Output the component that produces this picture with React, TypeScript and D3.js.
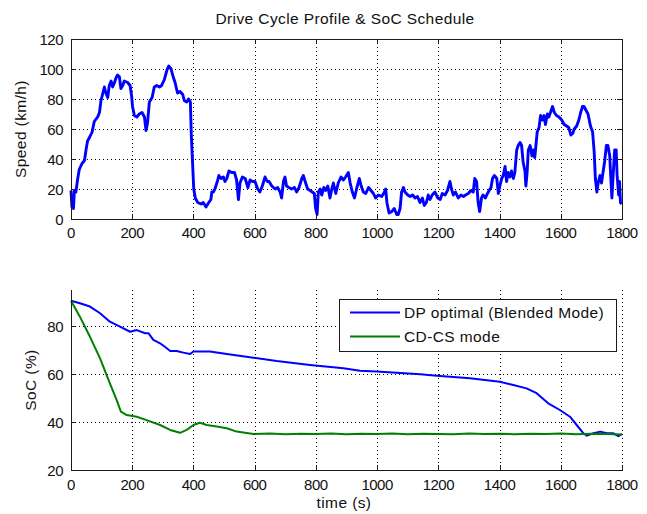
import React from "react";
import * as d3 from "d3";

const title = "Drive Cycle Profile & SoC Schedule";

const speedTime = [0, 3, 8, 11, 16, 22, 27, 36, 44, 49, 54, 62, 69, 76, 87, 93, 98, 103, 109, 114, 120, 125, 131, 136, 142, 147, 152, 158, 163, 169, 174, 185, 193, 198, 201, 207, 215, 223, 232, 240, 245, 250, 256, 265, 272, 280, 289, 296, 305, 313, 319, 327, 332, 340, 348, 356, 365, 370, 378, 384, 390, 393, 397, 401, 406, 414, 425, 432, 441, 450, 457, 460, 465, 470, 478, 483, 490, 498, 503, 509, 516, 525, 534, 541, 547, 552, 560, 569, 578, 585, 593, 601, 610, 617, 625, 634, 641, 647, 656, 667, 675, 683, 688, 694, 699, 704, 712, 721, 730, 737, 745, 754, 759, 765, 773, 781, 788, 795, 799, 804, 808, 814, 819, 826, 832, 839, 846, 852, 857, 865, 873, 882, 890, 897, 906, 912, 919, 926, 934, 942, 948, 955, 963, 972, 980, 988, 995, 1004, 1015, 1024, 1028, 1032, 1039, 1048, 1056, 1064, 1069, 1075, 1080, 1086, 1091, 1100, 1108, 1116, 1124, 1132, 1140, 1148, 1154, 1161, 1167, 1173, 1180, 1189, 1198, 1206, 1213, 1222, 1230, 1238, 1243, 1249, 1256, 1265, 1274, 1282, 1289, 1298, 1306, 1314, 1319, 1325, 1330, 1335, 1341, 1346, 1354, 1358, 1366, 1372, 1377, 1383, 1391, 1396, 1401, 1407, 1412, 1418, 1423, 1428, 1434, 1439, 1445, 1450, 1456, 1461, 1467, 1472, 1477, 1483, 1486, 1490, 1494, 1500, 1506, 1510, 1515, 1523, 1529, 1534, 1540, 1545, 1550, 1556, 1561, 1568, 1573, 1579, 1586, 1594, 1603, 1611, 1619, 1626, 1633, 1639, 1644, 1652, 1659, 1665, 1671, 1676, 1681, 1689, 1697, 1704, 1709, 1713, 1718, 1722, 1728, 1733, 1738, 1743, 1749, 1754, 1760, 1763, 1767, 1771, 1776, 1781, 1784, 1789, 1792, 1795, 1799];
const speedValue = [19, 8, 7, 19, 18, 27, 33, 37, 39, 46, 52, 55, 58, 65, 68, 71, 79, 83, 88, 84, 81, 89, 92, 88, 91, 94, 96, 95, 87, 89, 92, 91, 89, 82, 75, 69, 68, 70, 71, 68, 59, 64, 78, 81, 88, 89, 88, 89, 93, 99, 102, 100, 96, 91, 84, 85, 83, 79, 78, 80, 78, 56, 38, 20, 14, 11, 10, 11, 8, 11, 13, 18, 18, 20, 25, 29, 27, 28, 25, 27, 32, 31, 31, 26, 13, 24, 28, 27, 21, 26, 25, 25, 20, 18, 22, 28, 25, 25, 22, 20, 21, 18, 14, 25, 28, 22, 21, 20, 21, 18, 21, 27, 29, 25, 20, 19, 18, 17, 7, 3, 18, 20, 16, 21, 19, 22, 14, 20, 24, 17, 24, 28, 26, 28, 31, 24, 18, 14, 21, 27, 22, 18, 17, 21, 19, 17, 14, 16, 15, 18, 20, 11, 4, 5, 7, 3, 3, 7, 18, 21, 18, 16, 15, 16, 14, 15, 11, 14, 9, 11, 16, 13, 16, 18, 14, 13, 17, 16, 19, 25, 20, 16, 18, 14, 16, 15, 16, 17, 19, 18, 27, 25, 11, 5, 14, 16, 14, 16, 19, 21, 27, 29, 27, 17, 22, 27, 29, 35, 25, 31, 28, 32, 27, 31, 46, 49, 51, 49, 38, 32, 22, 31, 46, 49, 42, 46, 41, 58, 61, 69, 66, 69, 63, 70, 68, 72, 75, 71, 69, 68, 66, 63, 62, 61, 56, 57, 60, 62, 66, 71, 75, 75, 73, 70, 62, 58, 45, 27, 18, 24, 29, 24, 31, 38, 49, 49, 42, 29, 14, 29, 46, 46, 29, 16, 25, 11, 10];

const dpTime = [0, 29, 62, 95, 127, 160, 193, 215, 242, 253, 269, 291, 313, 324, 345, 367, 389, 400, 454, 509, 596, 672, 781, 890, 944, 999, 1141, 1195, 1303, 1401, 1445, 1488, 1521, 1559, 1597, 1630, 1652, 1674, 1685, 1707, 1729, 1751, 1772, 1788, 1800];
const dpSoC = [90.5, 89.5, 88.1, 85.3, 81.8, 79.7, 77.6, 78.3, 77.0, 77.0, 74.2, 72.8, 70.7, 69.6, 69.6, 68.9, 68.3, 69.4, 69.4, 68.3, 66.8, 65.4, 63.75, 62.4, 61.4, 61.0, 59.9, 59.3, 58.2, 56.8, 55.4, 54.0, 52.0, 47.8, 45.0, 42.2, 38.75, 35.3, 34.3, 35.3, 36.0, 35.3, 35.3, 34.1, 35.0];

const cdTime = [0, 29, 62, 95, 127, 149, 163, 182, 215, 247, 291, 324, 356, 378, 400, 421, 443, 476, 509, 541, 596, 650, 700, 750, 800, 850, 900, 950, 1000, 1050, 1100, 1150, 1200, 1250, 1300, 1350, 1400, 1450, 1500, 1550, 1600, 1650, 1700, 1750, 1800];
const cdSoC = [90.5, 83.9, 75.5, 66.5, 56.1, 49.2, 44.3, 42.9, 42.2, 40.8, 38.75, 36.7, 35.5, 36.7, 38.75, 39.7, 38.75, 38.1, 37.4, 36.0, 35.0, 35.2, 34.9, 35.1, 35.0, 35.2, 34.9, 35.1, 35.0, 35.2, 34.9, 35.1, 35.0, 34.9, 35.2, 35.0, 35.1, 34.9, 35.1, 35.0, 35.2, 34.9, 35.1, 35.0, 34.8];

const xTicks = [0, 200, 400, 600, 800, 1000, 1200, 1400, 1600, 1800];
const speedTicks = [0, 20, 40, 60, 80, 100, 120];
const socTicks = [20, 40, 60, 80];
const legendLabels = ["DP optimal (Blended Mode)", "CD-CS mode"];

const FONT = "'Liberation Sans', Arial, Helvetica, sans-serif";
const AX = "#1a1a1a";

export default function App() {
  const L = 71, R = 622;
  const x = d3.scaleLinear().domain([0, 1800]).range([L, R]);
  const y1 = d3.scaleLinear().domain([0, 120]).range([219, 39]);
  const y2 = d3.scaleLinear().domain([20, 95]).range([470, 290]);

  const speedLine = d3.line<number>().x((_, i) => x(speedTime[i])).y((d) => y1(d));
  const dpLine = d3.line<number>().x((_, i) => x(dpTime[i])).y((d) => y2(d));
  const cdLine = d3.line<number>().x((_, i) => x(cdTime[i])).y((d) => y2(d));

  const tick = 5;
  const tickStyle = { fontFamily: FONT, fontSize: 15, letterSpacing: -0.5, fill: "#111" } as const;
  const labelStyle = { fontFamily: FONT, fontSize: 15.5, letterSpacing: 0.4, fill: "#111" } as const;

  return (
    <svg width={647} height={514} style={{ position: "absolute", left: 0, top: 0, background: "#fff" }}>
      <rect x={0} y={0} width={647} height={514} fill="#fff" />
      {/* Title */}
      <text x={345} y={24} textAnchor="middle" style={labelStyle}>{title}</text>

      {/* ---------- Top plot ---------- */}
      <g>
        {xTicks.slice(1, -1).map((t) => (
          <line key={"gx1" + t} x1={Math.round(x(t)) + 0.5} x2={Math.round(x(t)) + 0.5} y1={39} y2={219} stroke="#000" strokeDasharray="1,3" strokeWidth={1} />
        ))}
        {speedTicks.slice(1, -1).map((v) => (
          <line key={"gy1" + v} x1={L} x2={R} y1={Math.round(y1(v)) + 0.5} y2={Math.round(y1(v)) + 0.5} stroke="#000" strokeDasharray="1,3" strokeWidth={1} />
        ))}
        <path d={speedLine(speedValue) || ""} fill="none" stroke="#0000ff" strokeWidth={2.9} strokeLinejoin="round" />
        <rect x={L + 0.5} y={39.5} width={R - L} height={219 - 39} fill="none" stroke={AX} strokeWidth={1} />
        {xTicks.map((t) => (
          <g key={"tx1" + t}>
            <line x1={Math.round(x(t)) + 0.5} x2={Math.round(x(t)) + 0.5} y1={219} y2={219 - tick} stroke={AX} />
            <line x1={Math.round(x(t)) + 0.5} x2={Math.round(x(t)) + 0.5} y1={39} y2={39 + tick} stroke={AX} />
            <text x={x(t)} y={238} textAnchor="middle" style={tickStyle}>{t}</text>
          </g>
        ))}
        {speedTicks.map((v) => (
          <g key={"ty1" + v}>
            <line x1={L} x2={L + tick} y1={Math.round(y1(v)) + 0.5} y2={Math.round(y1(v)) + 0.5} stroke={AX} />
            <line x1={R} x2={R - tick} y1={Math.round(y1(v)) + 0.5} y2={Math.round(y1(v)) + 0.5} stroke={AX} />
            <text x={63} y={y1(v) + 5.5} textAnchor="end" style={tickStyle}>{v}</text>
          </g>
        ))}
        <text transform={`translate(26,129) rotate(-90)`} textAnchor="middle" style={labelStyle}>Speed (km/h)</text>
      </g>

      {/* ---------- Bottom plot ---------- */}
      <g>
        {xTicks.slice(1).map((t) => (
          <line key={"gx2" + t} x1={Math.round(x(t)) + 0.5} x2={Math.round(x(t)) + 0.5} y1={290} y2={470} stroke="#000" strokeDasharray="1,3" strokeWidth={1} />
        ))}
        {socTicks.slice(1).map((v) => (
          <line key={"gy2" + v} x1={L} x2={R} y1={Math.round(y2(v)) + 0.5} y2={Math.round(y2(v)) + 0.5} stroke="#000" strokeDasharray="1,3" strokeWidth={1} />
        ))}
        <path d={dpLine(dpSoC) || ""} fill="none" stroke="#0000ff" strokeWidth={2} strokeLinejoin="round" />
        <path d={cdLine(cdSoC) || ""} fill="none" stroke="#008000" strokeWidth={2} strokeLinejoin="round" />
        <line x1={L + 0.5} x2={L + 0.5} y1={290} y2={470.5} stroke={AX} />
        <line x1={L} x2={R + 1} y1={470.5} y2={470.5} stroke={AX} />
        {xTicks.map((t) => (
          <g key={"tx2" + t}>
            <line x1={Math.round(x(t)) + 0.5} x2={Math.round(x(t)) + 0.5} y1={470} y2={470 - tick} stroke={AX} />
            <text x={x(t)} y={490} textAnchor="middle" style={tickStyle}>{t}</text>
          </g>
        ))}
        {socTicks.map((v) => (
          <g key={"ty2" + v}>
            <line x1={L} x2={L + tick} y1={Math.round(y2(v)) + 0.5} y2={Math.round(y2(v)) + 0.5} stroke={AX} />
            <text x={63} y={y2(v) + 5.5} textAnchor="end" style={tickStyle}>{v}</text>
          </g>
        ))}
        <text transform={`translate(36,380) rotate(-90)`} textAnchor="middle" style={labelStyle}>SoC (%)</text>
        <text x={344} y={508} textAnchor="middle" style={labelStyle}>time (s)</text>

        {/* Legend */}
        <rect x={339.5} y={299.5} width={277} height={52} fill="#fff" stroke={AX} strokeWidth={1} />
        <line x1={350} x2={400} y1={312.5} y2={312.5} stroke="#0000ff" strokeWidth={2} />
        <line x1={350} x2={400} y1={336.5} y2={336.5} stroke="#008000" strokeWidth={2} />
        <text x={404} y={318} style={labelStyle}>{legendLabels[0]}</text>
        <text x={404} y={342} style={labelStyle}>{legendLabels[1]}</text>
      </g>
    </svg>
  );
}
